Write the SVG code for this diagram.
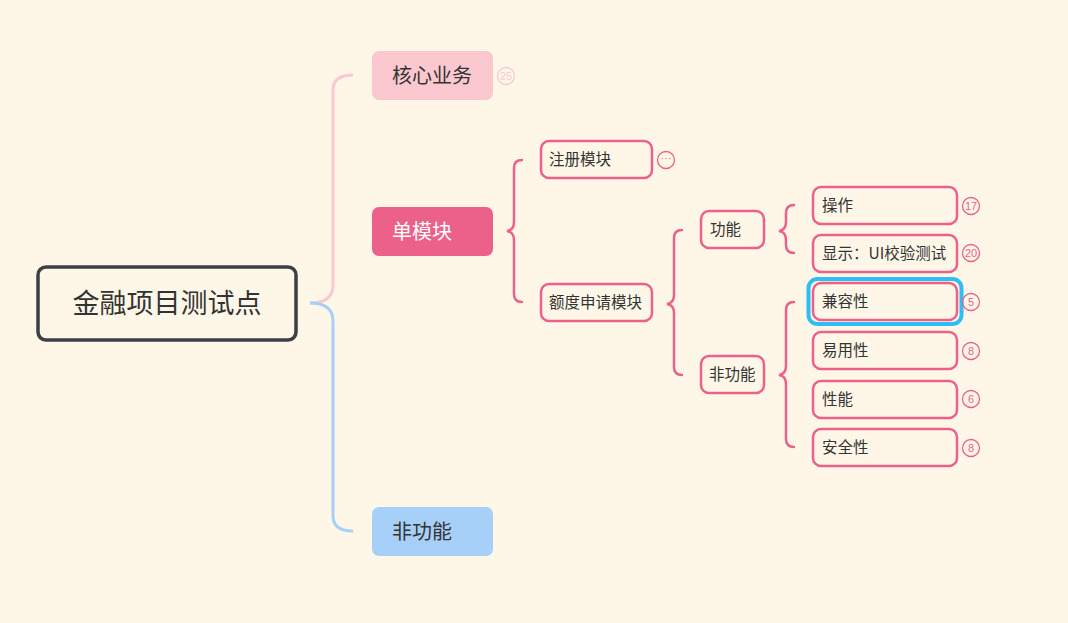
<svg xmlns="http://www.w3.org/2000/svg" width="1068" height="623" viewBox="0 0 1068 623">
<style>
.t{font-family:"Noto Sans CJK SC","Noto Sans",sans-serif;fill:#333;}
.s{font-size:15.5px;}
.sub{fill:#FEF7E7;stroke:#EC6189;stroke-width:2.5;}
.c{fill:none;stroke:#EC6189;stroke-width:2.5;stroke-linecap:round;}
.b{fill:none;stroke:#EC6189;stroke-width:1.3;}
.bt{font-family:"Liberation Sans",Arial,sans-serif;font-size:11px;fill:#EC6189;text-anchor:middle;}
</style>
<rect width="1068" height="623" fill="#FEF7E7"/>
<g id="connectors">
<path d="M310,303 Q333,303 333,285 L333,90 Q333,75 353,75" fill="none" stroke="#FCC8D0" stroke-width="3"/>
<path d="M310,303 Q333,303 333,321 L333,516 Q333,531 353,531" fill="none" stroke="#A6D0F8" stroke-width="3"/>
<path class="c" d="M522,160 Q514,160 514,168 L514,222 Q514,230 507,231 Q514,232 514,240 L514,294 Q514,302 522,302"/>
<path class="c" d="M682,230 Q674,230 674,238 L674,295 Q674,303 667,304 Q674,305 674,313 L674,367 Q674,375 682,375"/>
<path class="c" d="M794,205 Q786,205 786,213 L786,222 Q786,230 779,231 Q786,232 786,240 L786,245 Q786,253 794,253"/>
<path class="c" d="M794,302 Q786,302 786,310 L786,366 Q786,374 779,375 Q786,376 786,384 L786,439 Q786,447 794,447"/>
</g>
<g id="root">
<rect x="38" y="267" width="258" height="73" rx="8" fill="#FEF7E7" stroke="#3C4043" stroke-width="3.5"/>
<text class="t" x="167" y="313" font-size="27" text-anchor="middle">金融项目测试点</text>
</g>
<g id="core">
<rect x="372" y="51" width="121" height="49" rx="7" fill="#FCC8D0"/>
<text class="t" x="392" y="83" font-size="20" fill="#222">核心业务</text>
<circle cx="506" cy="76" r="8.5" fill="none" stroke="#FCC8D0" stroke-width="1.3"/>
<text class="bt" x="506" y="80" style="fill:#FCC8D0">25</text>
</g>
<g id="single">
<rect x="372" y="207" width="121" height="49" rx="7" fill="#EC6189"/>
<text class="t" x="392" y="239" font-size="20" style="fill:#fff">单模块</text>
</g>
<g id="nonfunc">
<rect x="372" y="507" width="121" height="49" rx="7" fill="#A6D0F8"/>
<text class="t" x="392" y="539" font-size="20">非功能</text>
</g>
<g id="register">
<rect class="sub" x="541" y="141" width="111" height="37" rx="8"/>
<text class="t s" x="549" y="165">注册模块</text>
<circle class="b" cx="666" cy="160" r="8.5"/>
<text class="bt" x="666" y="162">···</text>
</g>
<g id="quota">
<rect class="sub" x="541" y="284" width="111" height="37" rx="8"/>
<text class="t s" x="549" y="308">额度申请模块</text>
</g>
<g id="func">
<rect class="sub" x="701" y="211" width="63" height="37" rx="8"/>
<text class="t s" x="710" y="235">功能</text>
</g>
<g id="nonfunc2">
<rect class="sub" x="701" y="356" width="63" height="37" rx="8"/>
<text class="t s" x="709" y="380">非功能</text>
</g>
<g id="op">
<rect class="sub" x="813" y="187" width="144" height="37" rx="8"/>
<text class="t s" x="822" y="211">操作</text>
<circle class="b" cx="971" cy="206" r="8.5"/>
<text class="bt" x="971" y="210">17</text>
</g>
<g id="display">
<rect class="sub" x="813" y="235" width="144" height="37" rx="8"/>
<text class="t s" x="822" y="259">显示：UI校验测试</text>
<circle class="b" cx="971" cy="253" r="8.5"/>
<text class="bt" x="971" y="257">20</text>
</g>
<g id="compat">
<rect x="808.5" y="279" width="153" height="45" rx="9" fill="none" stroke="#2EBDF5" stroke-width="4"/>
<rect class="sub" x="813" y="283" width="144" height="37" rx="8"/>
<text class="t s" x="822" y="307">兼容性</text>
<circle class="b" cx="971" cy="302" r="8.5"/>
<text class="bt" x="971" y="306">5</text>
</g>
<g id="usability">
<rect class="sub" x="813" y="332" width="144" height="37" rx="8"/>
<text class="t s" x="822" y="356">易用性</text>
<circle class="b" cx="971" cy="351" r="8.5"/>
<text class="bt" x="971" y="355">8</text>
</g>
<g id="perf">
<rect class="sub" x="813" y="381" width="144" height="37" rx="8"/>
<text class="t s" x="822" y="405">性能</text>
<circle class="b" cx="971" cy="399" r="8.5"/>
<text class="bt" x="971" y="403">6</text>
</g>
<g id="security">
<rect class="sub" x="813" y="429" width="144" height="37" rx="8"/>
<text class="t s" x="822" y="453">安全性</text>
<circle class="b" cx="971" cy="448" r="8.5"/>
<text class="bt" x="971" y="452">8</text>
</g>
</svg>
